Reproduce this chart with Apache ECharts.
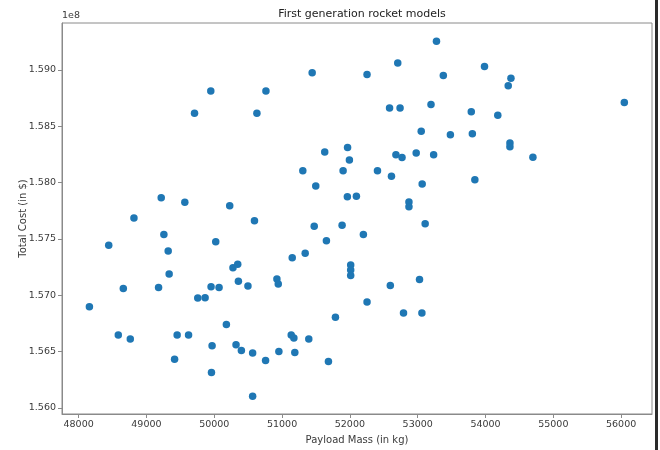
<!DOCTYPE html>
<html><head><meta charset="utf-8">
<script src="https://cdn.jsdelivr.net/npm/echarts@6/dist/echarts.min.js"></script>
<style>html,body{margin:0;padding:0;background:#fff}#c{width:660px;height:450px}</style>
</head><body><div id="c"></div>
<script>
const chartTitle = 'First generation rocket models';
const xAxisName = 'Payload Mass (in kg)';
const yAxisName = 'Total Cost (in $)';
const payloadMass = [48816,49218,49566,49709,49949,51444,50762,50629,51629,51966,
51993,51306,51900,51497,51963,52096,50228,50593,53277,52706,
52253,53378,53985,52585,52740,53196,53790,54181,53052,53482,
53806,52679,52769,52978,53235,52407,52613,53066,53843,52871,
52871,53110,54375,54335,56047,54360,54360,54699,49257,48444,
49321,49335,48659,49179,48159,49757,49865,48585,48762,49453,
49621,49415,51474,51885,50022,51654,51150,51341,50276,50346,
52012,52012,52012,49953,50071,50356,50497,50924,50944,50179,
51787,49968,50321,50400,50566,50757,50953,51135,51174,51188,
51394,51684,49959,50566,52199,52596,53027,52253,52791,53062];
const totalCost = [157686000,157864000,157825000,158614000,158813000,158974000,158813000,158614000,158271000,158311000,
158199000,158104000,158104000,157968000,157873000,157879000,157793000,157660000,159254000,159061000,
158958000,158949000,159030000,158661000,158661000,158693000,158629000,158598000,158454000,158425000,
158432000,158247000,158223000,158263000,158247000,158104000,158056000,157986000,158025000,157828000,
157785000,157633000,158925000,158860000,158710000,158350000,158318000,158224000,157539000,157442000,
157392000,157188000,157059000,157068000,156898000,156974000,156977000,156646000,156611000,156646000,
156646000,156430000,157611000,157620000,157474000,157482000,157331000,157372000,157243000,157275000,
157267000,157223000,157175000,157074000,157068000,157123000,157082000,157144000,157100000,156740000,
156804000,156550000,156559000,156509000,156486000,156421000,156500000,156646000,156620000,156491000,
156611000,156412000,156313000,156103000,157539000,157085000,157138000,156939000,156842000,156842000];
const xTicks = [48000,49000,50000,51000,52000,53000,54000,55000,56000];
const yTicks = [156000000,156500000,157000000,157500000,158000000,158500000,159000000];

const font = 'DejaVu Sans';
const textColor = '#3a3a3a';
const spine = '#8a8a8a';
const chart = echarts.init(document.getElementById('c'), null, {renderer:'canvas'});
chart.setOption({
  animation:false,
  backgroundColor:'#fff',
  textStyle:{fontFamily:font},
  title:{text:chartTitle, left:357, top:4, textAlign:'center',
    textStyle:{fontFamily:font, fontSize:11, fontWeight:'normal', color:'#222'}},
  grid:{left:62, top:23, right:8, bottom:31, show:true, borderColor:spine, borderWidth:1},
  xAxis:{type:'value', min:47755, max:56455,
    name:xAxisName, nameLocation:'middle', nameGap:21, nameMoveOverlap:false,
    nameTextStyle:{fontFamily:font, fontSize:10, color:textColor},
    axisLine:{show:true, lineStyle:{color:spine, width:1}},
    axisTick:{show:true, length:4, customValues:xTicks, lineStyle:{color:spine}},
    axisLabel:{customValues:xTicks, fontFamily:font, fontSize:9.5, color:textColor, margin:6,
      formatter:v=>String(Math.round(v))},
    splitLine:{show:false}},
  yAxis:{type:'value', min:155945000, max:159416000,
    name:yAxisName, nameLocation:'middle', nameGap:34, nameRotate:90, nameMoveOverlap:false,
    nameTextStyle:{fontFamily:font, fontSize:10, color:textColor},
    axisLine:{show:true, lineStyle:{color:spine, width:1}},
    axisTick:{show:true, length:4, customValues:yTicks, lineStyle:{color:spine}},
    axisLabel:{customValues:yTicks, fontFamily:font, fontSize:9.5, color:textColor, margin:6,
      formatter:v=>(v/1e8).toFixed(3)},
    splitLine:{show:false}},
  graphic:[
    {type:'text', left:62, top:11, style:{text:'1e8', fontFamily:font, fontSize:9.5, fill:textColor}},
    {type:'rect', shape:{x:655, y:0, width:3, height:450}, style:{fill:'#2a2a2a'}}
  ],
  series:[{type:'scatter', symbolSize:7.5,
    itemStyle:{color:'#1f77b4', opacity:1},
    data:payloadMass.map((m,i)=>[m,totalCost[i]])}]
});
</script></body></html>
